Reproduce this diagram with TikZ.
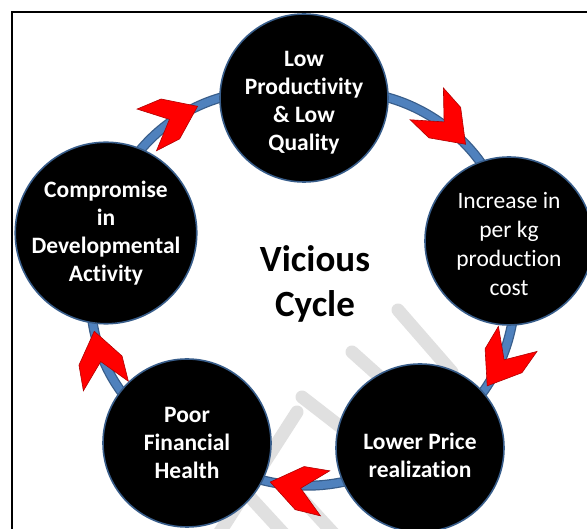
\documentclass[tikz,border=0pt]{standalone}
\usepackage{fontspec}
\setmainfont{Carlito}[Ligatures=NoCommon]
\usetikzlibrary{decorations.markings}
\pgfdeclarelayer{background}
\pgfsetlayers{background,main}
\definecolor{ringblue}{HTML}{4F81BD}
\definecolor{ringdark}{HTML}{385D8A}
\definecolor{chevdark}{HTML}{B00000}
\definecolor{wmgray}{HTML}{E0E0E0}
\tikzset{
  stage/.style={circle, minimum size=168pt, inner sep=0pt, fill=black, draw=ringdark, line width=1.6pt, text=white, align=center, font=\fontsize{23.5}{28}\selectfont\bfseries},
  ring/.style={draw=ringblue, line width=7.5pt, preaction={draw=ringdark, line width=10pt}},
  chev/.style={postaction=decorate, decoration={markings, mark=at position #1 with {\path[fill=red, draw=chevdark, line width=0.6pt, line join=miter] (0,0) -- (-30,22) -- (-56,23) -- (-31,0) -- (-56,-23) -- (-30,-22) -- cycle;}}},
  wm/.style={draw=wmgray, line width=13pt, line cap=round},
}
\begin{document}
\begin{tikzpicture}[x=1pt, y=1pt]
\useasboundingbox (0,0) rectangle (587,-529);
% stages
\node[stage] (top) at (304,-98) {\rule{0pt}{24pt}Low\\Productivity\\\& Low\\Quality};
\node[stage, font=\fontsize{23.5}{29}\selectfont] (right) at (509,-241) {\rule{0pt}{22pt}Increase in\\per kg\\production\\cost};
\node[stage] (lr) at (420,-448) {\rule{0pt}{31pt}Lower Price\\realization};
\node[stage] (ll) at (187,-443) {Poor\\Financial\\Health};
\node[stage] (left) at (106,-233) {Compromise\\in\\Developmental\\Activity};
\node[font=\fontsize{37}{45}\selectfont\bfseries, align=center] (title) at (315,-284) {Vicious\\Cycle};
\begin{pgfonlayer}{background}
\fill[white] (0,0) rectangle (587,-529);
\draw[line width=2pt] (12,-12) rectangle (610,-560);
% watermark
\draw[wm] (398,-310) -- (452,-372);
\draw[wm] (352,-352) -- (400,-395);
\draw[wm] (302,-397) -- (342,-428);
\draw[wm] (297,-412) -- (218,-535);
\draw[wm] (300,-497) -- (335,-535);
\draw[wm] (250,-497) -- (285,-535);
% ring with arrowheads
\draw[ring, chev=0.62] (top.center) to[bend left=52] (right.center);
\draw[ring, chev=0.62] (right.center) to[bend left=37] (lr.center);
\draw[ring, chev=0.63] (lr.center) to[bend left=36] (ll.center);
\draw[ring, chev=0.60] (ll.center) to[bend left=47] (left.center);
\draw[ring, chev=0.60] (left.center) to[bend left=52] (top.center);
\end{pgfonlayer}
\end{tikzpicture}
\end{document}
